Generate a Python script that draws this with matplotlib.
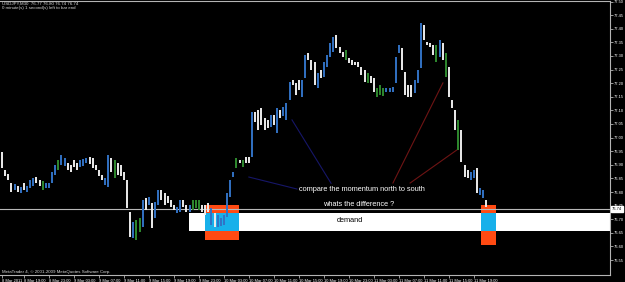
"""USDJPY M30 chart with demand zone notes, drawn like a MetaTrader window."""
import matplotlib
matplotlib.use("Agg")
import matplotlib.pyplot as plt
import matplotlib.transforms as mtransforms

# bar highs / lows (price), one per 30 min bar
HIGHS = [
    76.947, 76.881, 76.866, 76.833, 76.830, 76.822, 76.818, 76.833, 76.822, 76.844,
    76.852, 76.855, 76.844, 76.841, 76.833, 76.833, 76.874, 76.899, 76.918, 76.936,
    76.925, 76.907, 76.899, 76.918, 76.907, 76.918, 76.921, 76.925, 76.929, 76.925,
    76.899, 76.881, 76.863, 76.852, 76.936, 76.925, 76.918, 76.907, 76.899, 76.874,
    76.844, 76.727, 76.690, 76.697, 76.705, 76.771, 76.778, 76.782, 76.760, 76.763,
    76.807, 76.807, 76.796, 76.785, 76.771, 76.752, 76.745, 76.771, 76.771, 76.752,
    76.752, 76.771, 76.771, 76.771, 76.752, 76.752, 76.760, 76.741, 76.723, 76.716,
    76.705, 76.716, 76.796, 76.844, 76.874, 76.925, 76.918, 76.918, 76.929, 76.929,
    77.094, 77.094, 77.102, 77.109, 77.072, 77.065, 77.083, 77.083, 77.109, 77.102,
    77.113, 77.127, 77.205, 77.212, 77.201, 77.212, 77.212, 77.304, 77.311, 77.285,
    77.278, 77.238, 77.249, 77.278, 77.304, 77.348, 77.370, 77.377, 77.333, 77.315,
    77.322, 77.293, 77.285, 77.278, 77.278, 77.260, 77.249, 77.238, 77.227, 77.219,
    77.182, 77.193, 77.182, 77.182, 77.182, 77.186, 77.296, 77.341, 77.330, 77.241,
    77.193, 77.193, 77.212, 77.249, 77.421, 77.414, 77.352, 77.348, 77.341, 77.341,
    77.359, 77.348, 77.311, 77.260, 77.138, 77.102, 77.065, 77.028, 76.899, 76.881,
    76.874, 76.881, 76.888, 76.815, 76.807, 76.771,
]
LOWS = [
    76.888, 76.859, 76.844, 76.800, 76.807, 76.800, 76.796, 76.807, 76.800, 76.815,
    76.822, 76.833, 76.822, 76.807, 76.815, 76.815, 76.833, 76.863, 76.881, 76.899,
    76.896, 76.881, 76.874, 76.892, 76.881, 76.892, 76.896, 76.907, 76.903, 76.888,
    76.881, 76.859, 76.844, 76.826, 76.818, 76.874, 76.852, 76.863, 76.859, 76.844,
    76.741, 76.635, 76.631, 76.624, 76.653, 76.671, 76.734, 76.752, 76.668, 76.705,
    76.752, 76.771, 76.752, 76.760, 76.745, 76.734, 76.723, 76.727, 76.745, 76.727,
    76.727, 76.734, 76.741, 76.734, 76.727, 76.716, 76.727, 76.679, 76.671, 76.671,
    76.675, 76.679, 76.708, 76.782, 76.855, 76.888, 76.907, 76.892, 76.907, 76.907,
    76.929, 77.057, 77.028, 77.046, 77.028, 77.035, 77.039, 77.046, 77.017, 77.072,
    77.080, 77.065, 77.138, 77.193, 77.157, 77.175, 77.149, 77.219, 77.285, 77.249,
    77.193, 77.182, 77.219, 77.223, 77.260, 77.296, 77.315, 77.330, 77.311, 77.296,
    77.285, 77.274, 77.267, 77.267, 77.260, 77.230, 77.205, 77.201, 77.201, 77.168,
    77.149, 77.157, 77.153, 77.168, 77.168, 77.168, 77.201, 77.311, 77.249, 77.157,
    77.149, 77.149, 77.164, 77.201, 77.256, 77.359, 77.341, 77.333, 77.304, 77.278,
    77.296, 77.285, 77.223, 77.149, 77.109, 77.028, 76.955, 76.910, 76.855, 76.852,
    76.844, 76.852, 76.796, 76.789, 76.778, 76.745,
]
# b = up bar, w = down bar, g = doji
KINDS = ("wwwwbwbwbb" "bwwgbbbbgb" "bwwwwbbbww" "wwwbbwgwww" "wwbggbwbwb"
         "bwwwwwbbww" "bgggwwwbwb" "bbbbbgwgww" "bwwwwwbwbw" "bbbwwwbbww"
         "wbwbbbbwww" "gwwwwwwgww" "gggbbbbbww" "wwbbbwwwwg" "bwgwwwgwww"
         "bbwbbw")

PRICE_TICKS = [77.50, 77.45, 77.40, 77.35, 77.30, 77.25, 77.20, 77.15, 77.10, 77.05,
               77.00, 76.95, 76.90, 76.85, 76.80, 76.75, 76.70, 76.65, 76.60, 76.55]
TIME_IDX = [0, 7, 15, 23, 31, 39, 47, 55, 63, 71, 79, 87, 95, 103, 111, 119, 127, 135, 143, 151]
TIME_LABELS = ["8 Mar 2011", "8 Mar 19:00", "8 Mar 23:00", "9 Mar 03:00", "9 Mar 07:00",
               "9 Mar 11:00", "9 Mar 15:00", "9 Mar 19:00", "9 Mar 23:00", "10 Mar 03:00",
               "10 Mar 07:00", "10 Mar 11:00", "10 Mar 15:00", "10 Mar 19:00", "10 Mar 23:00",
               "11 Mar 03:00", "11 Mar 07:00", "11 Mar 11:00", "11 Mar 15:00", "11 Mar 19:00"]

LAST_PRICE = 76.738
DEMAND_LO, DEMAND_HI = 76.657, 76.723
DEMAND_START = 59.8
# (start bar, end bar, outer low, outer high) for the two touches of the zone
TOUCHES = [(65.0, 75.8, 76.624, 76.752), (153.3, 158.1, 76.605, 76.754)]

# hand-drawn trend lines: (bar0, price0, bar1, price1)
NORTH_LINES = [(92.8, 77.065, 105.3, 76.832), (79.0, 76.855, 94.4, 76.811)]
SOUTH_LINES = [(141.1, 77.201, 125.1, 76.833), (145.6, 76.955, 130.6, 76.833)]

COLORS = {"b": "#3272c4", "w": "#ececec", "g": "#2f8a2f"}
BG = "#000000"
FRAME = "#b4b4b4"

fig = plt.figure(figsize=(6.25, 2.82), dpi=100)
fig.patch.set_facecolor(BG)
ax = fig.add_axes([0, 7 / 282, 610 / 625, 274 / 282])
ax.set_facecolor(BG)
ax.set_xlim(-0.64, 194.56)
ax.set_ylim(76.495, 77.502)

# demand zone + touches
ax.fill_between([DEMAND_START, 194.56], DEMAND_LO, DEMAND_HI, color="white", lw=0, zorder=1)
for x0, x1, lo, hi in TOUCHES:
    ax.fill_between([x0, x1], lo, hi, color="#ff4a12", lw=0, zorder=1)
    ax.fill_between([x0, x1], DEMAND_LO, DEMAND_HI, color="#18b0ea", lw=0, zorder=1.1)

ax.axhline(LAST_PRICE, color="#b8b8b8", lw=0.8, zorder=2)

for x0, p0, x1, p1 in NORTH_LINES:
    ax.plot([x0, x1], [p0, p1], color="#161668", lw=0.8, zorder=2)
for x0, p0, x1, p1 in SOUTH_LINES:
    ax.plot([x0, x1], [p0, p1], color="#6e1414", lw=0.8, zorder=2)

xs = list(range(len(HIGHS)))
ax.vlines(xs, LOWS, HIGHS, colors=[COLORS[k] for k in KINDS], lw=1.4, zorder=3)

txt = dict(family="Liberation Sans", fontsize=5.3, ha="center", va="center", zorder=4)
ax.text(115.2, 76.811, "compare the momentum north to south", color="white", **txt)
ax.text(114.0, 76.754, "whats the difference ?", color="white", **txt)
ax.text(111.4, 76.697, "demand", color="black", **txt)

# axes look
for side in ["top", "right", "bottom"]:
    ax.spines[side].set_color(FRAME)
    ax.spines[side].set_linewidth(0.8)
ax.spines["left"].set_visible(False)
ax.yaxis.tick_right()
ax.set_yticks(PRICE_TICKS)
ax.set_yticklabels([f"{p:.2f}" for p in PRICE_TICKS])
ax.set_xticks(TIME_IDX)
ax.set_xticklabels(TIME_LABELS)
ax.tick_params(colors=FRAME, labelcolor="white", labelsize=2.9, length=2, width=0.6, pad=1)
for lab in ax.get_xticklabels() + ax.get_yticklabels():
    lab.set_family("Liberation Sans")
plt.setp(ax.get_xticklabels(), ha="left")

trans = mtransforms.blended_transform_factory(ax.transAxes, ax.transData)
ax.text(1.003, LAST_PRICE, f"{LAST_PRICE:.2f}", transform=trans, fontsize=2.9,
        family="Liberation Sans", color="black", ha="left", va="center", zorder=5,
        bbox=dict(boxstyle="square,pad=0.25", fc="white", ec="white"), clip_on=False)

info = dict(family="Liberation Sans", fontsize=3.2, color="#d8d8d8", ha="left", va="center")
fig.text(2 / 625, 1 - 3.5 / 282, "USDJPY,M30  76.77 76.80 76.74 76.74", **info)
fig.text(2 / 625, 1 - 8.5 / 282, "0 minute(s) 1 second(s) left to bar end", **info)
fig.text(2 / 625, 1 - 271.5 / 282, "MetaTrader 4, \u00a9 2001-2009 MetaQuotes Software Corp.", **info)

fig.savefig("out.png", dpi=100, facecolor=fig.get_facecolor())
